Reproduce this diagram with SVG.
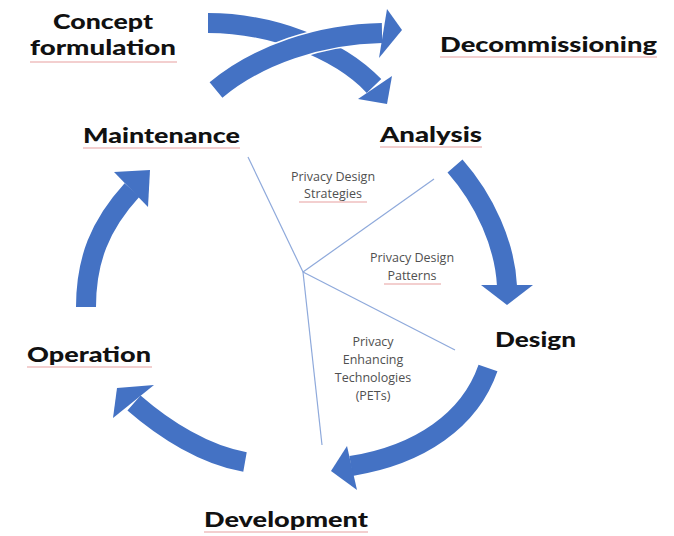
<svg xmlns="http://www.w3.org/2000/svg" width="674" height="536" viewBox="0 0 674 536">
<style>
.shaft{fill:none;stroke:#4472C4;stroke-width:20;stroke-linecap:butt}
.halo{fill:none;stroke:#ffffff;stroke-width:23;stroke-linecap:butt}
.head{fill:#4472C4}
.lbl{font-family:Lato,"Open Sans","Liberation Sans",sans-serif;font-weight:900;font-size:21px;fill:#111111}
.sm{font-family:"Open Sans","Liberation Sans",sans-serif;font-size:12.5px;fill:#505050;text-anchor:middle}
.spell{stroke:#e8a0a0;stroke-width:1.2;fill:none}
.ray{stroke:#8EA9DB;stroke-width:1.2;fill:none}
</style>
<rect width="674" height="536" fill="#ffffff"/>
<g id="connectors">
  <g id="arrow-concept-analysis">
    <path class="shaft" d="M208,23 C270,23 338,48 374,86"/>
    <polygon class="head" points="392,76 387,104 358,99"/>
  </g>
  <g id="arrow-maintenance-decommissioning">
    <path class="halo" d="M216,90 C258,55 320,34 382,33"/>
    <path class="shaft" d="M216,90 C258,55 320,34 382,33"/>
    <polygon class="head" points="387,9 402,30 379,58"/>
  </g>
  <g id="arrow-analysis-design">
    <path class="shaft" d="M455,166 C485,200 505,245 507,286"/>
    <polygon class="head" points="481,285 533,285 507,305"/>
  </g>
  <g id="arrow-design-development">
    <path class="shaft" d="M488,368 C470,420 420,455 351,466"/>
    <polygon class="head" points="347,446 357,490 331,471"/>
  </g>
  <g id="arrow-development-operation">
    <path class="shaft" d="M245,462 C205,455 165,430 134,403"/>
    <polygon class="head" points="154,385 113,418 117,388"/>
  </g>
  <g id="arrow-operation-maintenance">
    <path class="shaft" d="M86,307 C86,260 100,225 132,190"/>
    <polygon class="head" points="114,172 150,170 148,207"/>
  </g>
  <g id="rays">
    <line class="ray" x1="248" y1="157" x2="303" y2="272"/>
    <line class="ray" x1="303" y1="272" x2="434" y2="179"/>
    <line class="ray" x1="303" y1="272" x2="455" y2="350"/>
    <line class="ray" x1="303" y1="272" x2="322" y2="445"/>
  </g>
</g>
<g id="concept">
  <text class="lbl" x="103" y="29" text-anchor="middle" textLength="100" lengthAdjust="spacingAndGlyphs">Concept</text>
  <text class="lbl" x="103" y="55" text-anchor="middle" textLength="146" lengthAdjust="spacingAndGlyphs">formulation</text>
  <line class="spell" x1="30" y1="62" x2="177" y2="62"/>
</g>
<g id="decommissioning">
  <text class="lbl" x="440" y="52" textLength="217" lengthAdjust="spacingAndGlyphs">Decommissioning</text>
  <line class="spell" x1="440" y1="57" x2="657" y2="57"/>
</g>
<g id="maintenance">
  <text class="lbl" x="83" y="143" textLength="157" lengthAdjust="spacingAndGlyphs">Maintenance</text>
  <line class="spell" x1="83" y1="148" x2="240" y2="148"/>
</g>
<g id="analysis">
  <text class="lbl" x="380" y="142" textLength="102" lengthAdjust="spacingAndGlyphs">Analysis</text>
  <line class="spell" x1="380" y1="147" x2="482" y2="147"/>
</g>
<g id="design">
  <text class="lbl" x="495" y="347" textLength="81" lengthAdjust="spacingAndGlyphs">Design</text>
</g>
<g id="operation">
  <text class="lbl" x="27" y="362" textLength="124" lengthAdjust="spacingAndGlyphs">Operation</text>
  <line class="spell" x1="27" y1="367" x2="152" y2="367"/>
</g>
<g id="development">
  <text class="lbl" x="204" y="527" textLength="164" lengthAdjust="spacingAndGlyphs">Development</text>
  <line class="spell" x1="204" y1="532" x2="368" y2="532"/>
</g>
<g id="strategies">
  <text class="sm" x="333" y="181">Privacy Design</text>
  <text class="sm" x="333" y="198">Strategies</text>
  <line class="spell" x1="299" y1="202" x2="367" y2="202"/>
</g>
<g id="patterns">
  <text class="sm" x="412" y="262">Privacy Design</text>
  <text class="sm" x="412" y="280">Patterns</text>
  <line class="spell" x1="384" y1="284" x2="441" y2="284"/>
</g>
<g id="pets">
  <text class="sm" x="373" y="346">Privacy</text>
  <text class="sm" x="373" y="364">Enhancing</text>
  <text class="sm" x="373" y="382">Technologies</text>
  <text class="sm" x="373" y="400">(PETs)</text>
</g>
</svg>
